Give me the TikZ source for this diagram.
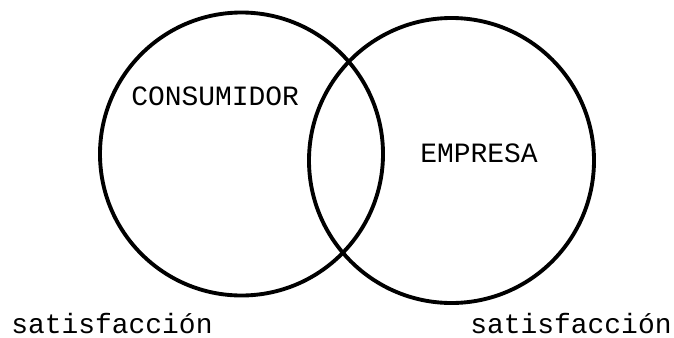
\documentclass[tikz,border=0pt]{standalone}
\usepackage{fontspec}
\newfontfamily\typewriter{Liberation Mono}
\usepackage{tikz}
\usetikzlibrary{positioning}

\begin{document}
\begin{tikzpicture}[
                    setcircle/.style={draw, circle, line width=2.2pt, inner sep=0pt},
                    setlabel/.style={inner sep=0pt, anchor=base west, font=\typewriter\fontsize{15.9}{18}\selectfont}
                ]
                    \useasboundingbox (0,0) rectangle (13.48,6.74);
                    % the two sets
                    \node[setcircle, minimum size=5.66cm] (consumidorset) at (4.83,3.66) {};
                    \node[setcircle, minimum size=5.70cm] (empresaset) at (9.03,3.53) {};

                    \node[setlabel] (consumidor) at (2.62,4.64) {CONSUMIDOR};
                    \node[setlabel] (empresa) at (8.40,3.50) {EMPRESA};

                    \node[setlabel] (satleft) at (0.22,0.08) {satisfacción};
                    \node[setlabel] (satright) at (9.40,0.08) {satisfacción};
                \end{tikzpicture}
\end{document}
